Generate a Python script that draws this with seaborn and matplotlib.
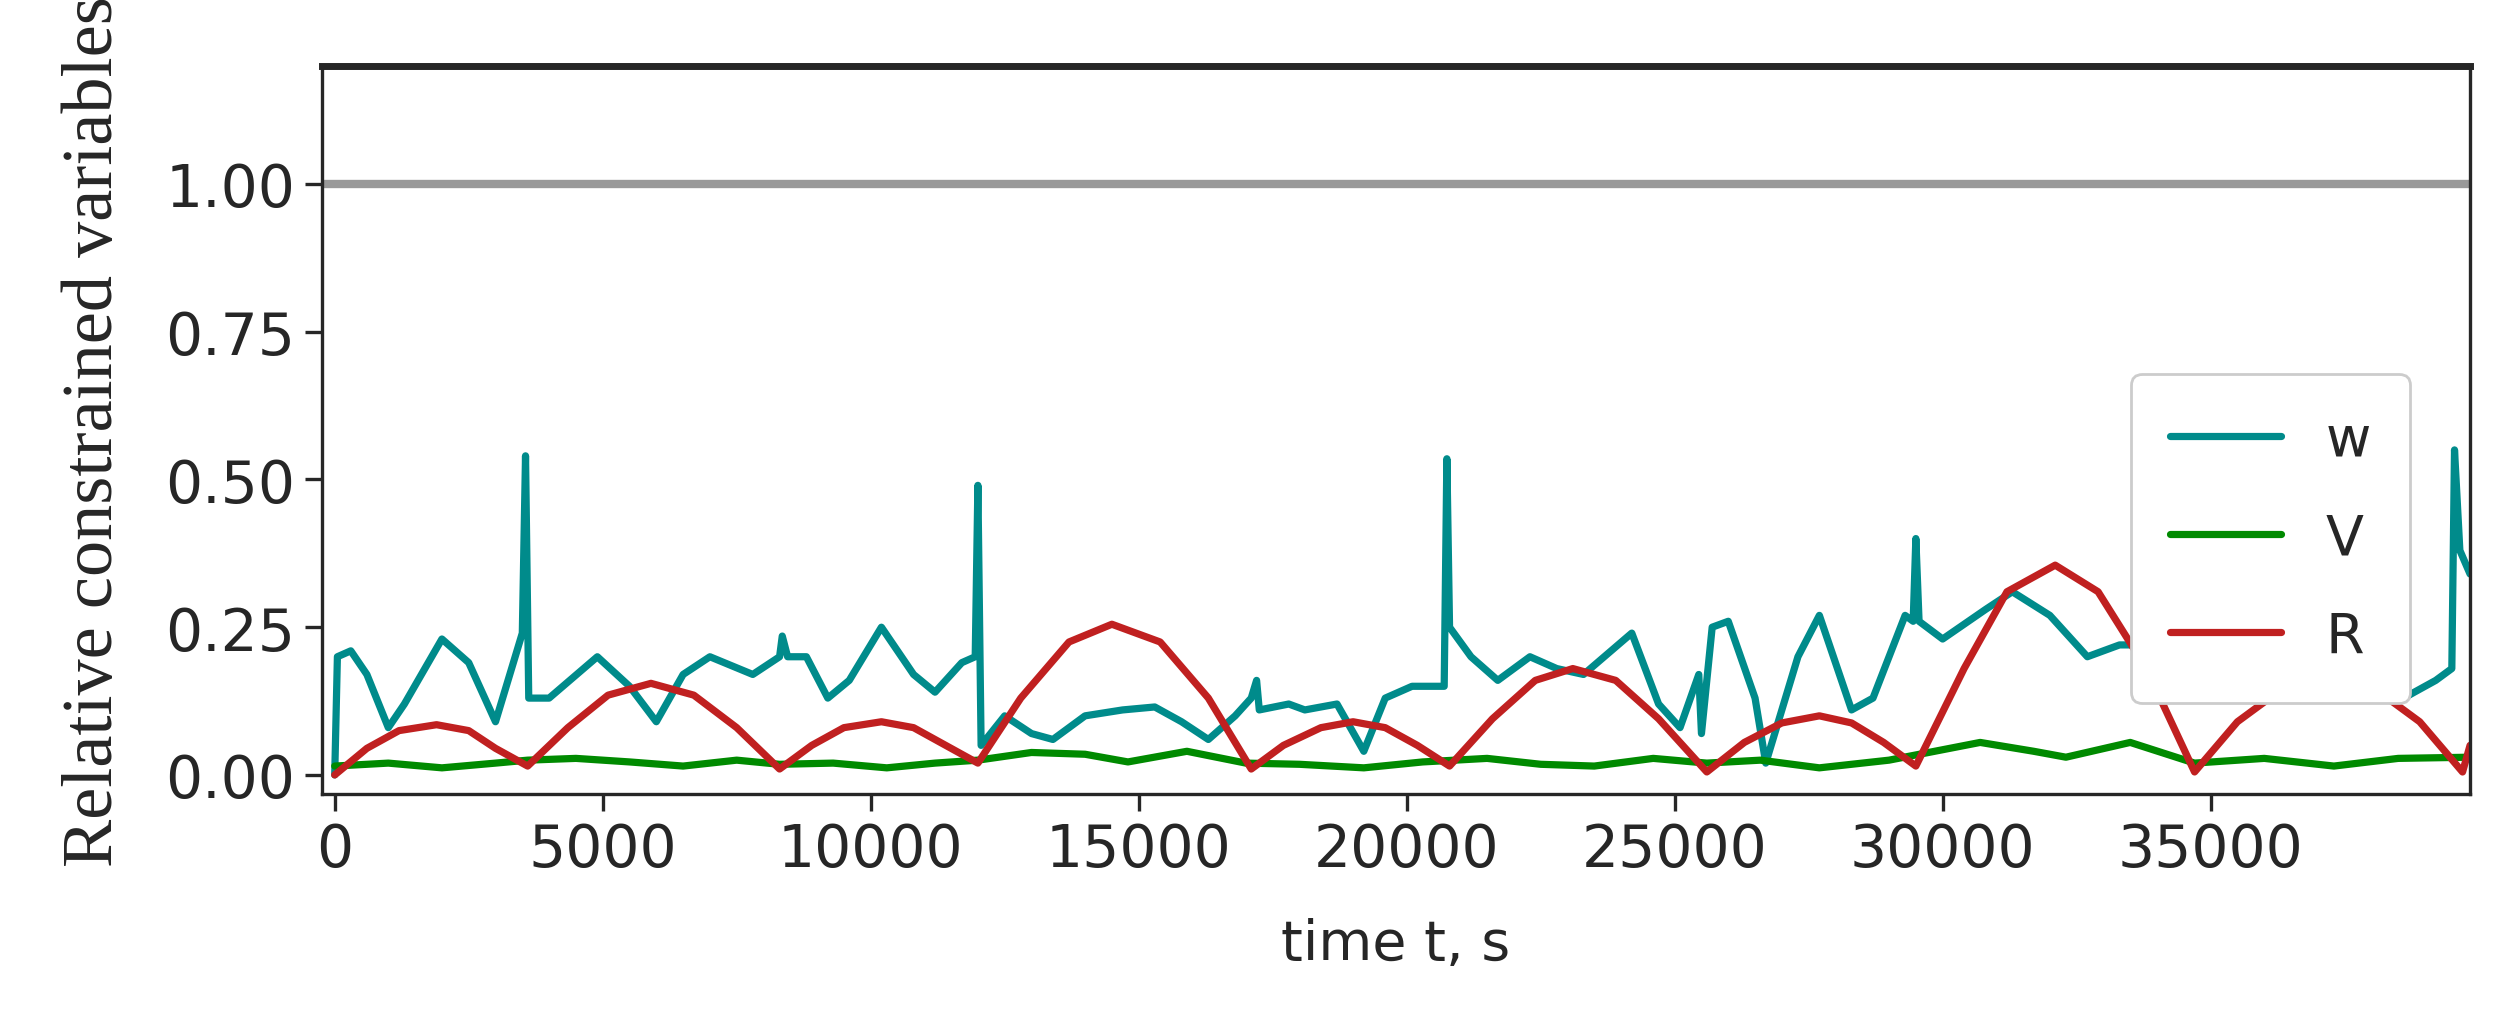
import numpy as np
import pandas as pd
import matplotlib
matplotlib.use("Agg")
import matplotlib.pyplot as plt
import seaborn as sns

w_t = [0,50,300,600,1000,1300,2000,2500,3000,3500,3560,3620,4000,4900,5500,6000,6500,7000,7800,8300,8350,8450,8800,9200,9600,10200,10800,11200,11700,11950,12000,12060,12500,13000,13400,14000,14700,15300,15800,16300,16800,17100,17200,17250,17800,18100,18700,19200,19600,20100,20700,20750,20800,21200,21700,22300,22800,23300,24200,24700,25100,25450,25500,25700,26000,26500,26700,27300,27700,28300,28700,29300,29450,29500,29560,30000,30800,31300,32000,32700,33300,34700,34750,34850,35500,36000,36700,37400,38000,38600,39200,39500,39550,39650,39840]
w_v = [0,.2,.21,.17,.08,.12,.23,.19,.09,.24,.54,.13,.13,.2,.15,.09,.17,.2,.17,.2,.235,.2,.2,.13,.16,.25,.17,.14,.19,.2,.49,.05,.1,.07,.06,.1,.11,.115,.09,.06,.1,.13,.16,.11,.12,.11,.12,.04,.13,.15,.15,.535,.25,.2,.16,.2,.18,.17,.24,.12,.08,.17,.07,.25,.26,.13,.02,.2,.27,.11,.13,.27,.26,.40,.26,.23,.28,.31,.27,.2,.22,.22,.29,.25,.19,.15,.22,.23,.21,.13,.16,.18,.55,.38,.34]

v_t = [0,1000,2000,3000,3600,4500,5500,6500,7500,8300,9300,10300,11200,12000,13000,14000,14800,15900,17000,18000,19200,20300,21500,22500,23500,24600,25600,26600,27700,29000,30700,31700,32300,33500,34700,36000,37300,38500,39840]
v_v = [.015,.02,.012,.02,.025,.028,.022,.015,.025,.018,.02,.012,.02,.025,.038,.035,.022,.04,.02,.018,.012,.022,.028,.018,.015,.028,.02,.025,.012,.025,.055,.04,.03,.055,.02,.028,.015,.028,.03]

r_t = [0,600,1200,1900,2500,3000,3600,4350,5100,5900,6700,7500,8300,8900,9500,10200,10800,11400,12000,12800,13700,14500,15400,16300,17100,17700,18400,19000,19600,20200,20800,21600,22400,23100,23900,24700,25600,26300,27000,27700,28300,28900,29500,30400,31200,32100,32900,33800,34700,35500,36400,37200,38000,38900,39700,39840]
r_v = [0,.045,.075,.085,.075,.045,.015,.08,.135,.155,.135,.08,.01,.05,.08,.09,.08,.05,.02,.13,.225,.255,.225,.13,.01,.05,.08,.09,.08,.05,.015,.095,.16,.18,.16,.095,.005,.055,.088,.10,.088,.055,.015,.18,.31,.355,.31,.18,.005,.09,.15,.17,.15,.09,.005,.05]

df = pd.concat([
    pd.DataFrame({"t": w_t, "val": w_v, "var": "w"}),
    pd.DataFrame({"t": v_t, "val": v_v, "var": "V"}),
    pd.DataFrame({"t": r_t, "val": r_v, "var": "R"}),
])

sns.set_style("ticks")
plt.rcParams['font.family'] = ['DejaVu Sans']
fig = plt.figure(figsize=(12.475, 5.06), dpi=200)
ax = fig.add_axes([0.129, 0.214, 0.861, 0.72])
ax.axhline(1.0, color="#999999", lw=3, zorder=1)
sns.lineplot(data=df, x="t", y="val", hue="var", sort=False,
             palette={"w": "#008b8b", "V": "#008a00", "R": "#c02020"},
             lw=2.6, ax=ax, estimator=None)
ax.set_xlim(-240, 39840)
ax.set_ylim(-0.033, 1.2)
ax.set_xticks(range(0, 40000, 5000))
ax.set_yticks([0, .25, .5, .75, 1.0])
ax.set_yticklabels(["0.00", "0.25", "0.50", "0.75", "1.00"])
ax.tick_params(labelsize=21, width=1.2, length=6)
for s in ax.spines.values():
    s.set_linewidth(1.2)
ax.spines["top"].set_linewidth(2.5)
ax.set_xlabel("time t, s", fontsize=20, labelpad=14)
ax.set_ylabel("Relative constrained variables", fontsize=26, family="Liberation Serif", labelpad=14)
leg = ax.legend(loc="upper right", bbox_to_anchor=(0.985, 0.615), fontsize=20,
                handlelength=2.0, labelspacing=0.8, borderpad=0.7, framealpha=1)
leg.set_zorder(10)
fig.savefig("out.png", dpi=200)
